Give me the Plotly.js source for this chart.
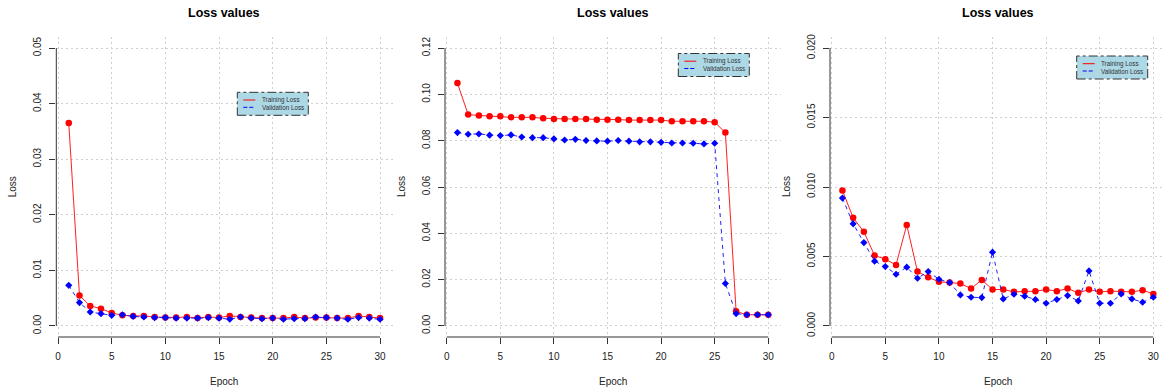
<!DOCTYPE html>
<html>
<head>
<meta charset="utf-8">
<script src="https://cdn.plot.ly/plotly-3.0.1.min.js"></script>
<style>html,body{margin:0;padding:0;background:#fff;}#chart{width:1162px;height:389px;}</style>
</head>
<body>
<div id="chart"></div>
<script>
// ---------- data ----------
const epochs = [1,2,3,4,5,6,7,8,9,10,11,12,13,14,15,16,17,18,19,20,21,22,23,24,25,26,27,28,29,30];

const train1 = [0.0365,0.00545,0.0036,0.0031,0.00234,0.0019,0.0018,0.0018,0.0016,0.0015,0.0015,0.0016,0.00144,0.0016,0.0015,0.0018,0.0016,0.0015,0.0014,0.0014,0.0014,0.0016,0.0014,0.0015,0.0015,0.0014,0.0014,0.0018,0.0016,0.0014];
const valid1 = [0.0073,0.0042,0.0025,0.0022,0.0019,0.0020,0.0017,0.0016,0.0015,0.0015,0.0014,0.0014,0.0014,0.0015,0.0014,0.0012,0.0016,0.0014,0.0013,0.0014,0.0012,0.0013,0.0013,0.0016,0.0015,0.0014,0.0012,0.0015,0.0014,0.0012];

const train2 = [0.1049,0.0913,0.0909,0.0906,0.0906,0.0901,0.0901,0.0901,0.0897,0.0894,0.0894,0.0894,0.0894,0.0891,0.0891,0.0891,0.0889,0.0889,0.0889,0.0889,0.0884,0.0884,0.0884,0.0884,0.0880,0.0835,0.0063,0.0048,0.0048,0.0048];
const valid2 = [0.0835,0.0828,0.0829,0.0824,0.0822,0.0825,0.0816,0.0813,0.0813,0.0808,0.0803,0.0806,0.0801,0.0799,0.0798,0.0801,0.0798,0.0795,0.0795,0.0793,0.0790,0.0790,0.0789,0.0786,0.0789,0.0183,0.0053,0.0048,0.0048,0.0048];

const train3 = [0.00975,0.00778,0.00677,0.00507,0.0048,0.00439,0.00727,0.00391,0.0035,0.00317,0.00312,0.00305,0.00269,0.00331,0.00262,0.00262,0.00245,0.0025,0.0025,0.00262,0.0025,0.00269,0.00238,0.00262,0.00245,0.0025,0.00245,0.00245,0.00257,0.0023];
const valid3 = [0.0092,0.00735,0.006,0.00466,0.00427,0.00372,0.00423,0.00343,0.00391,0.00336,0.00312,0.00223,0.00206,0.00204,0.00531,0.00194,0.00228,0.00214,0.0019,0.00163,0.0019,0.00218,0.0018,0.00396,0.00163,0.00163,0.0023,0.00194,0.0017,0.00206];

const xTicks = [0,5,10,15,20,25,30];
const yTicks1 = [0,0.01,0.02,0.03,0.04,0.05];
const yTicks2 = [0,0.02,0.04,0.06,0.08,0.10,0.12];
const yTicks3 = [0,0.005,0.010,0.015,0.020];

const titleText = "Loss values";
const xTitle = "Epoch";
const yTitle = "Loss";
const seriesNames = ["Training Loss", "Validation Loss"];

// ---------- layout helpers ----------
const W = 1162, H = 389;
const px = v => v / W;
const py = v => 1 - v / H;
const FONT = "Liberation Sans, Arial, Helvetica, sans-serif";
const plotTop = 37, plotBottom = 337;

const panels = [
  {left:56.3, right:392.5, xr:[-0.16,31.16], yr:[-0.002,0.052], yt:yTicks1, fmt:'.2f', tr:train1, va:valid1, leg:[237.3,92.3]},
  {left:445.0, right:780.7, xr:[-0.16,31.16], yr:[-0.0048,0.1248], yt:yTicks2, fmt:'.2f', tr:train2, va:valid2, leg:[678.3,53.5]},
  {left:830.0, right:1162, xr:[-0.16,30.81], yr:[-0.0008,0.0208], yt:yTicks3, fmt:'.3f', tr:train3, va:valid3, leg:[1076.7,56]}
];
const fullRight3 = 1165.7;

const data = [];
const layout = {
  width: W, height: H,
  margin: {l:0, r:0, t:0, b:0},
  paper_bgcolor: '#ffffff', plot_bgcolor: '#ffffff',
  showlegend: false,
  font: {family: FONT, color: '#222'},
  shapes: [], annotations: []
};

panels.forEach((p, i) => {
  const n = i === 0 ? '' : String(i + 1);
  const xa = 'x' + n, ya = 'y' + n;
  data.push({
    x: epochs, y: p.tr, xaxis: xa, yaxis: ya, name: seriesNames[0],
    type: 'scatter', mode: 'lines+markers',
    line: {color: '#ff2020', width: 1},
    marker: {color: '#ff0000', size: 6.5, symbol: 'circle'}
  });
  data.push({
    x: epochs, y: p.va, xaxis: xa, yaxis: ya, name: seriesNames[1],
    type: 'scatter', mode: 'lines+markers',
    line: {color: '#2020ff', width: 1, dash: '4px,4px'},
    marker: {color: '#0000ff', size: 5.5, symbol: 'diamond'}
  });

  const axCommon = {
    showgrid: true, gridcolor: '#cfcfcf', griddash: '2px,3px', gridwidth: 1,
    zeroline: false, showline: false,
    ticks: 'outside', ticklen: 6, tickwidth: 1, tickcolor: '#333',
    tickfont: {family: FONT, size: 10, color: '#222'},
    fixedrange: true
  };
  layout['xaxis' + n] = Object.assign({}, axCommon, {
    domain: [px(p.left), px(p.right)], range: p.xr, anchor: ya,
    tickmode: 'array', tickvals: xTicks, ticklabelstandoff: 4
  });
  layout['yaxis' + n] = Object.assign({}, axCommon, {
    domain: [py(plotBottom), py(plotTop)], range: p.yr, anchor: xa,
    tickmode: 'array', tickvals: p.yt, tickformat: p.fmt, tickangle: -90,
    ticklabelstandoff: 4
  });

  // R-style axis lines spanning first..last tick
  layout.shapes.push({type:'line', xref: xa, yref: ya + ' domain',
    x0: xTicks[0], x1: xTicks[xTicks.length-1], y0: 0, y1: 0,
    line:{color:'#333', width:1}});
  layout.shapes.push({type:'line', xref: xa + ' domain', yref: ya,
    x0: 0, x1: 0, y0: p.yt[0], y1: p.yt[p.yt.length-1],
    line:{color:'#333', width:1}});

  const rightFull = i === 2 ? fullRight3 : p.right;
  const cx = (p.left + rightFull) / 2;
  // titles
  layout.annotations.push({text: titleText, xref:'paper', yref:'paper',
    x: px(cx), y: py(13.5), xanchor:'center', yanchor:'middle', showarrow:false,
    font:{family: FONT, size: 12.5, color:'#000', weight:'bold'}});
  layout.annotations.push({text: xTitle, xref:'paper', yref:'paper',
    x: px(cx), y: py(381), xanchor:'center', yanchor:'middle', showarrow:false,
    font:{family: FONT, size: 10, color:'#222'}});
  layout.annotations.push({text: yTitle, xref:'paper', yref:'paper',
    x: px(p.left - 44), y: py(187), xanchor:'center', yanchor:'middle', showarrow:false,
    textangle: -90, font:{family: FONT, size: 10, color:'#222'}});

  // legend box (R-style)
  const lx = p.leg[0], ly = p.leg[1], lw = 71, lh = 23;
  layout.shapes.push({type:'rect', xref:'paper', yref:'paper',
    x0: px(lx), x1: px(lx + lw), y0: py(ly + lh), y1: py(ly),
    fillcolor:'#add8e6', line:{color:'#333', width:1, dash:'dashdot'}});
  layout.shapes.push({type:'line', xref:'paper', yref:'paper',
    x0: px(lx + 6), x1: px(lx + 18), y0: py(ly + 7.7), y1: py(ly + 7.7),
    line:{color:'#ff0000', width:1}});
  layout.shapes.push({type:'line', xref:'paper', yref:'paper',
    x0: px(lx + 6), x1: px(lx + 18), y0: py(ly + 15), y1: py(ly + 15),
    line:{color:'#0000ff', width:1, dash:'4px,2px'}});
  layout.annotations.push({text: seriesNames[0], xref:'paper', yref:'paper',
    x: px(lx + 22.5), y: py(ly + 7.7), xanchor:'left', yanchor:'middle', showarrow:false,
    font:{family: FONT, size: 6.3, color:'#333'}});
  layout.annotations.push({text: seriesNames[1], xref:'paper', yref:'paper',
    x: px(lx + 22.5), y: py(ly + 15), xanchor:'left', yanchor:'middle', showarrow:false,
    font:{family: FONT, size: 6.3, color:'#333'}});
});

Plotly.newPlot('chart', data, layout, {staticPlot: true, displayModeBar: false});
</script>
</body>
</html>
